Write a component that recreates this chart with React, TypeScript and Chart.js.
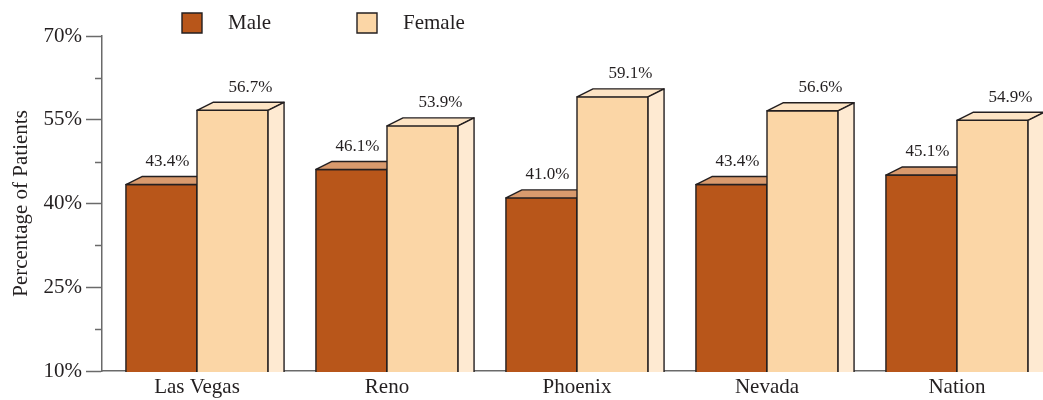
import React, { useEffect, useRef } from "react";
import { Chart, registerables } from "chart.js";

Chart.register(...registerables);

const categories = ["Las Vegas", "Reno", "Phoenix", "Nevada", "Nation"];
const maleValues = [43.4, 46.1, 41.0, 43.4, 45.1];
const femaleValues = [56.7, 53.9, 59.1, 56.6, 54.9];
const seriesNames = ["Male", "Female"];
const yMin = 10;
const yMax = 70;
const yStep = 15;

const FONT = "'Liberation Serif', 'Times New Roman', serif";
const INK = "#231f20";
const AXIS = "#6a6a6a";
const DEPTH_X = 16;
const DEPTH_Y = 8;

const palette = [
  { front: "#b8561a", top: "#d99a6d", side: "#a34a14" },
  { front: "#fbd6a6", top: "#fde4c4", side: "#feead2" },
];

function prism(ctx: CanvasRenderingContext2D, x0: number, x1: number, yTop: number, yBase: number, c: any) {
  ctx.save();
  ctx.lineWidth = 1.4;
  ctx.strokeStyle = INK;
  ctx.lineJoin = "round";
  ctx.fillStyle = c.front;
  ctx.beginPath();
  ctx.rect(x0, yTop, x1 - x0, yBase - yTop);
  ctx.fill();
  ctx.stroke();
  ctx.fillStyle = c.top;
  ctx.beginPath();
  ctx.moveTo(x0, yTop);
  ctx.lineTo(x0 + DEPTH_X, yTop - DEPTH_Y);
  ctx.lineTo(x1 + DEPTH_X, yTop - DEPTH_Y);
  ctx.lineTo(x1, yTop);
  ctx.closePath();
  ctx.fill();
  ctx.stroke();
  ctx.fillStyle = c.side;
  ctx.beginPath();
  ctx.moveTo(x1, yTop);
  ctx.lineTo(x1 + DEPTH_X, yTop - DEPTH_Y);
  ctx.lineTo(x1 + DEPTH_X, yBase - DEPTH_Y);
  ctx.lineTo(x1, yBase);
  ctx.closePath();
  ctx.fill();
  ctx.stroke();
  ctx.restore();
}

const bars3d = {
  id: "bars3d",
  afterDatasetsDraw(chart: any) {
    const ctx = chart.ctx as CanvasRenderingContext2D;
    const metas = [chart.getDatasetMeta(0), chart.getDatasetMeta(1)];
    const area = chart.chartArea;
    ctx.save();
    ctx.beginPath();
    ctx.rect(area.left, 0, chart.width, area.bottom + 1);
    ctx.clip();
    for (let i = 0; i < categories.length; i++) {
      metas.forEach((meta: any, d: number) => {
        const el = meta.data[i];
        const p = el.getProps(["x", "y", "base", "width"], true);
        const x0 = p.x - p.width / 2;
        const x1 = p.x + p.width / 2;
        prism(ctx, x0, x1, p.y, p.base, palette[d]);
      });
    }
    ctx.restore();
    ctx.save();
    ctx.fillStyle = INK;
    ctx.font = `17px ${FONT}`;
    ctx.textAlign = "center";
    ctx.textBaseline = "middle";
    metas.forEach((meta: any, d: number) => {
      const vals = d === 0 ? maleValues : femaleValues;
      meta.data.forEach((el: any, i: number) => {
        const p = el.getProps(["x", "y"], true);
        ctx.fillText(vals[i].toFixed(1) + "%", p.x + (d === 0 ? 6 : 18), p.y - 23);
      });
    });
    ctx.restore();
    const ys = chart.scales.y;
    ctx.save();
    ctx.strokeStyle = AXIS;
    ctx.lineWidth = 1.5;
    for (let v = yMin + yStep / 2; v < yMax; v += yStep) {
      const py = Math.round(ys.getPixelForValue(v)) + 0.5;
      ctx.beginPath();
      ctx.moveTo(ys.right - 7, py);
      ctx.lineTo(ys.right, py);
      ctx.stroke();
    }
    ctx.restore();
    ctx.save();
    const legendPos = [
      { box: 182, text: 228 },
      { box: 357, text: 403 },
    ];
    seriesNames.forEach((name, d) => {
      const lp = legendPos[d];
      ctx.fillStyle = palette[d].front;
      ctx.strokeStyle = INK;
      ctx.lineWidth = 1.4;
      ctx.beginPath();
      ctx.rect(lp.box, 13, 20, 20);
      ctx.fill();
      ctx.stroke();
      ctx.fillStyle = INK;
      ctx.font = `21px ${FONT}`;
      ctx.textAlign = "left";
      ctx.textBaseline = "middle";
      ctx.fillText(name, lp.text, 23);
    });
    ctx.restore();
  },
};

export default function App() {
  const ref = useRef<HTMLCanvasElement | null>(null);
  useEffect(() => {
    if (!ref.current) return;
    const chart = new Chart(ref.current, {
      type: "bar",
      data: {
        labels: categories,
        datasets: [
          { label: seriesNames[0], data: maleValues, backgroundColor: "rgba(0,0,0,0)", borderWidth: 0 },
          { label: seriesNames[1], data: femaleValues, backgroundColor: "rgba(0,0,0,0)", borderWidth: 0 },
        ],
      },
      options: {
        responsive: false,
        animation: false,
        categoryPercentage: 0.748,
        barPercentage: 1.0,
        layout: { padding: { left: 0, right: 8, top: 36, bottom: 0 } },
        plugins: {
          legend: { display: false },
          tooltip: { enabled: false },
        },
        scales: {
          x: {
            offset: true,
            grid: { display: false, drawTicks: false },
            border: { display: true, color: AXIS, width: 1.5 },
            ticks: { color: INK, font: { family: FONT, size: 21 }, padding: 4, maxRotation: 0, autoSkip: false },
            afterFit: (s: any) => {
              s.height = 29;
            },
          },
          y: {
            min: yMin,
            max: yMax,
            grid: { drawOnChartArea: false, drawTicks: true, tickLength: 16, tickColor: AXIS, tickWidth: 1.5 },
            border: { display: true, color: AXIS, width: 1.5 },
            ticks: {
              stepSize: yStep,
              color: INK,
              padding: 4,
              font: { family: FONT, size: 21 },
              callback: (v: any) => v + "%",
            },
            title: {
              display: true,
              text: "Percentage of Patients",
              color: INK,
              font: { family: FONT, size: 21 },
              padding: { top: 9, bottom: 0 },
            },
            afterFit: (s: any) => {
              s.width = 102;
            },
          },
        },
      },
      plugins: [bars3d],
    });
    return () => chart.destroy();
  }, []);
  return (
    <div style={{ position: "fixed", left: 0, top: 0, width: 1043, height: 400, overflow: "hidden", background: "#fff" }}>
      <canvas ref={ref} width={1060} height={400} style={{ width: 1060, height: 400, display: "block" }} />
    </div>
  );
}
